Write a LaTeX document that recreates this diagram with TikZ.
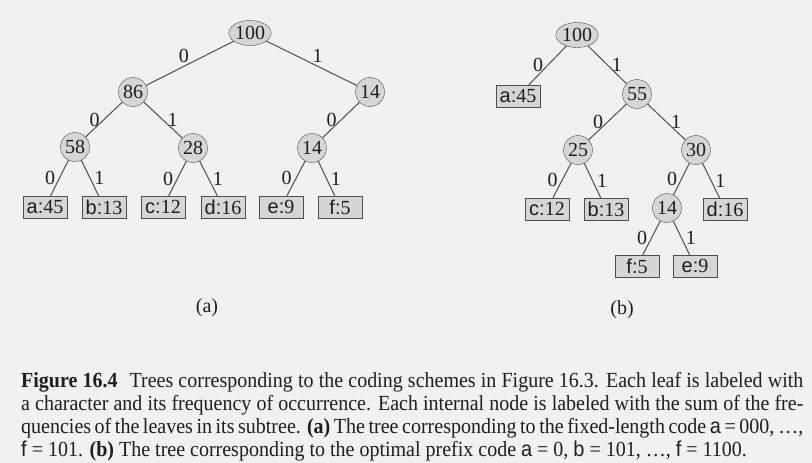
\documentclass[tikz,border=0pt]{standalone}
\usepackage{fontspec}
\setmainfont{Liberation Serif}
\newfontfamily\codefont{Liberation Sans}
\usepackage{tikz}
\usetikzlibrary{shapes.geometric, positioning}
\usepackage{xcolor}
\definecolor{paper}{RGB}{241, 241, 241}
\definecolor{nodefill}{RGB}{214, 214, 214}
\definecolor{edgecol}{RGB}{78, 78, 78}
\definecolor{inkcol}{RGB}{30, 30, 30}
\newcommand{\codech}[1]{{\codefont #1}}
% caption lines are set a little narrow, as in the book
\newcommand{\capfill}[1]{\scalebox{0.93}[1]{\makebox[841pt][s]{#1}}}

\begin{document}
\begin{tikzpicture}[x=1pt, y=-1pt, font=\fontsize{20}{22}\selectfont, text=inkcol,
  inner/.style={circle, draw=edgecol, fill=nodefill, minimum size=29pt, inner sep=0pt},
  rootnode/.style={ellipse, draw=edgecol, fill=nodefill, minimum width=37pt, minimum height=25pt, inner sep=0pt},
  leaf/.style={draw=edgecol, fill=nodefill, minimum width=44pt, minimum height=22pt, inner sep=0pt},
  branch/.style={draw=edgecol, line width=1pt},
  zerolab/.style={midway, left=4pt, inner sep=0pt},
  onelab/.style={midway, right=4pt, inner sep=0pt},
  zerotop/.style={midway, above left, inner sep=0.5pt},
  onetop/.style={midway, above right, inner sep=0.5pt},
  capline/.style={anchor=base west, inner sep=0pt, font=\fontsize{21.5}{23}\selectfont}]
  \path[use as bounding box, fill=paper] (0,0) rectangle (812,463);

  % (a) fixed-length code tree
  \node[rootnode] (a100) at (250,33) {100};
  \node[inner] (a86) at (133,92) {86};
  \node[inner] (a14) at (370,92) {14};
  \node[inner] (a58) at (75,147) {58};
  \node[inner] (a28) at (193,148) {28};
  \node[inner] (a14l) at (312,148) {14};
  \node[leaf] (aa) at (45,207) {\codech{a:}45};
  \node[leaf] (ab) at (104,207) {\codech{b:}13};
  \node[leaf] (ac) at (163,207) {\codech{c:}12};
  \node[leaf] (ad) at (223,207) {\codech{d:}16};
  \node[leaf] (ae) at (281,207) {\codech{e:}9};
  \node[leaf] (af) at (340,207) {\codech{f:}5};
  \draw[branch] (a100) -- (a86) node[zerotop]{0};
  \draw[branch] (a100) -- (a14) node[onetop]{1};
  \draw[branch] (a86) -- (a58) node[zerolab]{0};
  \draw[branch] (a86) -- (a28) node[onelab]{1};
  \draw[branch] (a14) -- (a14l) node[zerolab]{0};
  \draw[branch] (a58) -- (aa) node[zerolab]{0};
  \draw[branch] (a58) -- (ab) node[onelab]{1};
  \draw[branch] (a28) -- (ac) node[zerolab]{0};
  \draw[branch] (a28) -- (ad) node[onelab]{1};
  \draw[branch] (a14l) -- (ae) node[zerolab]{0};
  \draw[branch] (a14l) -- (af) node[onelab]{1};
  \node (tagA) at (207,308) {(a)};

  % (b) optimal prefix code tree
  \node[rootnode] (b100) at (577,35) {100};
  \node[leaf] (ba) at (518,96) {\codech{a:}45};
  \node[inner] (b55) at (637,94) {55};
  \node[inner] (b25) at (578,150) {25};
  \node[inner] (b30) at (696,150) {30};
  \node[leaf] (bc) at (547,209) {\codech{c:}12};
  \node[leaf] (bb) at (606,209) {\codech{b:}13};
  \node[inner] (b14) at (667,208) {14};
  \node[leaf] (bd) at (725,209) {\codech{d:}16};
  \node[leaf] (bf) at (637,266) {\codech{f:}5};
  \node[leaf] (be) at (695,266) {\codech{e:}9};
  \draw[branch] (b100) -- (ba) node[zerolab]{0};
  \draw[branch] (b100) -- (b55) node[onelab]{1};
  \draw[branch] (b55) -- (b25) node[zerolab]{0};
  \draw[branch] (b55) -- (b30) node[onelab]{1};
  \draw[branch] (b25) -- (bc) node[zerolab]{0};
  \draw[branch] (b25) -- (bb) node[onelab]{1};
  \draw[branch] (b30) -- (b14) node[zerolab]{0};
  \draw[branch] (b30) -- (bd) node[onelab]{1};
  \draw[branch] (b14) -- (bf) node[zerolab]{0};
  \draw[branch] (b14) -- (be) node[onelab]{1};
  \node (tagB) at (622,310) {(b)};

  % caption, one node per printed line
  \node[capline] (cap1) at (21,387) {\capfill{\textbf{Figure 16.4}\hspace{0.6em}Trees corresponding to the coding schemes in Figure 16.3. Each leaf is labeled with}};
  \node[capline] (cap2) at (21,410) {\capfill{a character and its frequency of occurrence. Each internal node is labeled with the sum of the fre-}};
  \node[capline] (cap3) at (21,433) {\capfill{quencies of the leaves in its subtree. \textbf{(a)} The tree corresponding to the fixed-length code \codech{a} = 000, \ldots,}};
  \node[capline] (cap4) at (21,456) {\scalebox{0.93}[1]{\codech{f} = 101. \textbf{(b)} The tree corresponding to the optimal prefix code \codech{a} = 0, \codech{b} = 101, \ldots, \codech{f} = 1100.}};
\end{tikzpicture}
\end{document}
